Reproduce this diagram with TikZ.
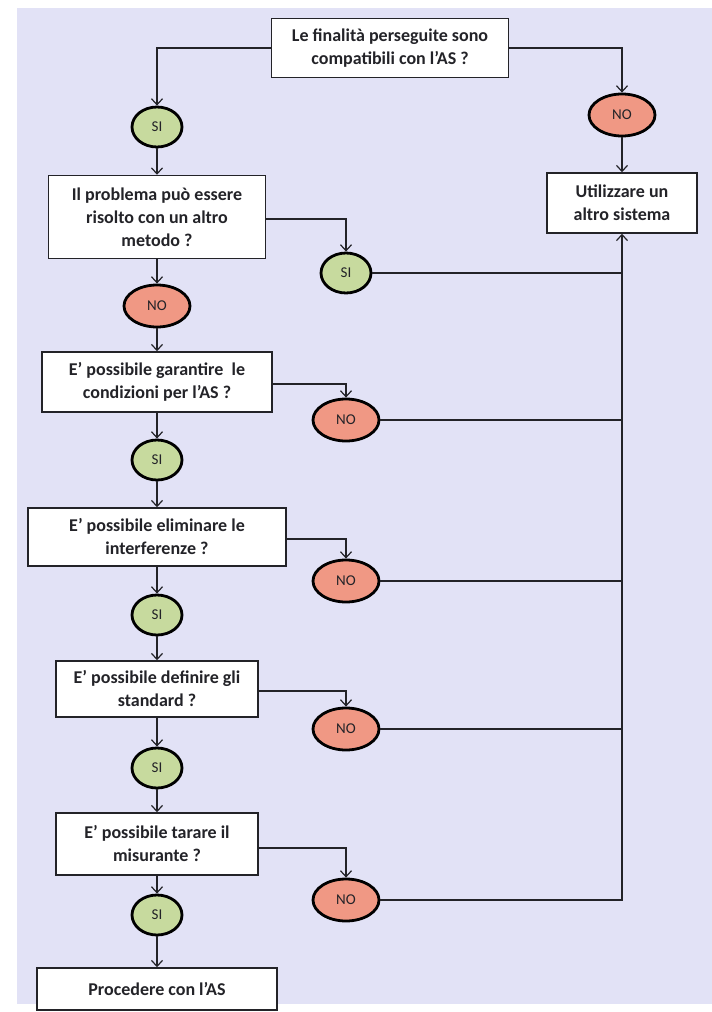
\documentclass[tikz,border=0pt]{standalone}
\usepackage{fontspec}
\setmainfont{Carlito}
\definecolor{pagelilac}{RGB}{226,226,246}
\definecolor{yesgreen}{RGB}{199,218,158}
\definecolor{nosalmon}{RGB}{240,152,132}
\definecolor{inkgray}{RGB}{35,35,40}
\usetikzlibrary{shapes.geometric,arrows.meta,positioning}

\tikzset{
    qbox/.style={draw=inkgray, line width=1.5pt, fill=white, align=center, inner sep=0pt,
        text=inkgray, font=\bfseries\fontsize{18}{23}\selectfont},
    answer/.style={ellipse, draw=black, line width=2.8pt, inner sep=0pt,
        text=inkgray, font=\fontsize{15}{17}\selectfont},
    yesnode/.style={answer, fill=yesgreen, minimum width=50pt, minimum height=40pt},
    nonode/.style={answer, fill=nosalmon, minimum width=66pt, minimum height=42pt},
    arr/.style={draw=inkgray, line width=1.2pt, -{Straight Barb[length=6pt,width=11pt]}},
    link/.style={draw=inkgray, line width=1.2pt}
}

\begin{document}
\begin{tikzpicture}[x=1pt,y=-1pt]
            % page
            \useasboundingbox (0,0) rectangle (712,1012);
            \fill[white] (0,0) rectangle (712,1012);
            \fill[pagelilac] (17,8) rectangle (712,1004);

            % questions
            \node[qbox, minimum width=237pt, minimum height=59pt] (start) at (390,48)
                {Le finalità perseguite sono\\compatibili con l’AS ?};
            \node[qbox, minimum width=217pt, minimum height=83pt] (metodo) at (157,217)
                {Il problema può essere\\risolto con un altro\\metodo ?};
            \node[qbox, minimum width=230pt, minimum height=60pt] (condiz) at (157,382)
                {E’ possibile garantire\ \ le\\condizioni per l’AS ?};
            \node[qbox, minimum width=258pt, minimum height=58pt] (interf) at (157,537)
                {E’ possibile eliminare le\\interferenze ?};
            \node[qbox, minimum width=202pt, minimum height=56pt] (standard) at (157,689)
                {E’ possibile definire gli\\standard ?};
            \node[qbox, minimum width=202pt, minimum height=62pt] (tarare) at (157,844)
                {E’ possibile tarare il\\misurante ?};

            % outcomes
            \node[qbox, minimum width=150pt, minimum height=60pt] (altro) at (622,203)
                {Utilizzare un\\altro sistema};
            \node[qbox, minimum width=240pt, minimum height=42pt] (procedi) at (157,989)
                {Procedere con l’AS};

            % answers, main column
            \node[yesnode] (si0) at (157,127) {SI};
            \node[nonode] (no1) at (157,306) {NO};
            \node[yesnode] (si2) at (157,460) {SI};
            \node[yesnode] (si3) at (157,615) {SI};
            \node[yesnode] (si4) at (157,768) {SI};
            \node[yesnode] (si5) at (157,915) {SI};

            % answers, side column
            \node[nonode] (no0) at (622,115) {NO};
            \node[yesnode] (si1) at (346,273) {SI};
            \node[nonode] (no2) at (346,420) {NO};
            \node[nonode] (no3) at (346,581) {NO};
            \node[nonode] (no4) at (346,729) {NO};
            \node[nonode] (no5) at (346,900) {NO};

            % main flow
            \draw[arr] (start.west) -| (si0.north);
            \draw[arr] (si0) -- (metodo);
            \draw[arr] (metodo) -- (no1);
            \draw[arr] (no1) -- (condiz);
            \draw[arr] (condiz) -- (si2);
            \draw[arr] (si2) -- (interf);
            \draw[arr] (interf) -- (si3);
            \draw[arr] (si3) -- (standard);
            \draw[arr] (standard) -- (si4);
            \draw[arr] (si4) -- (tarare);
            \draw[arr] (tarare) -- (si5);
            \draw[arr] (si5) -- (procedi);

            % branches
            \draw[arr] (start.east) -| (no0.north);
            \draw[arr] (no0) -- (altro);
            \draw[arr] ([yshift=-2pt]metodo.east) -| (si1.north);
            \draw[arr] ([yshift=-2pt]condiz.east) -| (no2.north);
            \draw[arr] ([yshift=-2pt]interf.east) -| (no3.north);
            \draw[arr] ([yshift=-2pt]standard.east) -| (no4.north);
            \draw[arr] ([yshift=-4pt]tarare.east) -| (no5.north);

            % back to the other system
            \draw[link] (si1.east) -- (si1 -| altro.south);
            \draw[link] (no2.east) -- (no2 -| altro.south);
            \draw[link] (no3.east) -- (no3 -| altro.south);
            \draw[link] (no4.east) -- (no4 -| altro.south);
            \draw[arr] (no5.east) -| (altro.south);
\end{tikzpicture}
\end{document}
